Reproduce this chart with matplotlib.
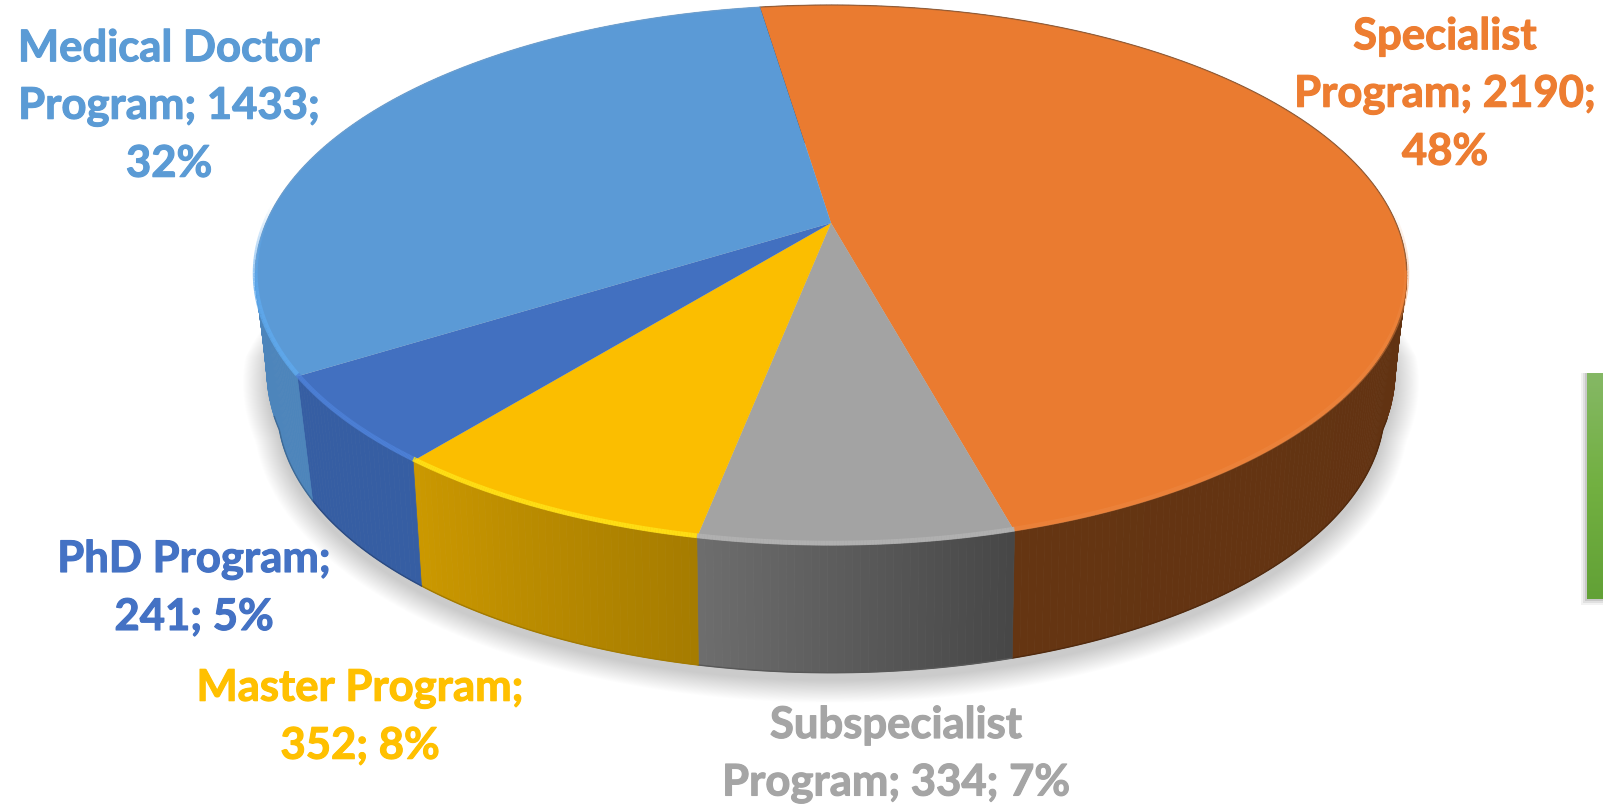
"""3D pie of enrolment per study program, drawn by hand in pixel coordinates."""
import numpy as np

import matplotlib
matplotlib.use('Agg')
import matplotlib.pyplot as plt
import matplotlib.patheffects as pe
from matplotlib.colors import to_rgb

# Slices go clockwise, starting at the Specialist slice
categories = ['Specialist Program', 'Subspecialist Program', 'Master Program',
              'PhD Program', 'Medical Doctor Program']
values = [2190, 334, 352, 241, 1433]
label_text = ['Specialist\nProgram; 2190;\n48%',
              'Subspecialist\nProgram; 334; 7%',
              'Master Program;\n352; 8%',
              'PhD Program;\n241; 5%',
              'Medical Doctor\nProgram; 1433;\n32%']
label_pos = [(1445, 94), (896, 754), (360, 717), (194, 588), (169, 106)]

top_colors = ['#EA7B30', '#A3A3A3', '#FBBE00', '#4270C0', '#5B9AD6']
text_colors = ['#ED7D31', '#A5A5A5', '#FFC000', '#4472C4', '#5B9BD5']
rim_colors = ['#EE8A45', '#B4B4B4', '#FFE61A', '#4F84DC', '#5FAAEE']
# walls are walked clockwise, so right hand colour comes first
wall_start = ['#5C2E12', '#474747', '#A67C00', '#365EA3', '#4D85BB']
wall_end = ['#653512', '#6E6E6E', '#CC9900', '#365EA3', '#4D85BB']

START_DEG = -8.6
CX = 831


def project(theta, x_amp, y_mid, y_amp, k):
    # perspective view of a circle, far edge is shrunk
    u, v = np.sin(theta), -np.cos(theta)
    d = 1 - k * v
    return CX + x_amp * u / d, y_mid + y_amp * v / d


def top_edge(theta):
    return project(theta, 565, 223, 260, 0.193)


def bottom_edge(theta):
    x, y = project(theta, 540, 349, 252.5, 0.22)
    # the foot of the wall bulges a bit at the far left and right
    v = -np.cos(theta)
    bulge = 1 + 0.04 * np.clip(1 - v / 0.3, 0, 1)
    return CX + (x - CX) * bulge, y


def mix(c1, c2, t):
    return tuple((1 - t) * a + t * b for a, b in zip(to_rgb(c1), to_rgb(c2)))


fig = plt.figure(figsize=(16.03, 8.06), dpi=100)
ax = fig.add_axes([0, 0, 1, 1])

# soft shadow under the pie
full = np.linspace(0, 2 * np.pi, 361)
bx, by = bottom_edge(full)
for grow in np.linspace(34, 0, 26):
    ax.fill(CX + (bx - CX) * (1 + grow / 800), by + 8 + (by - 349) * grow / 500,
            color='black', alpha=0.0075, lw=0, zorder=1)

edges = np.radians(START_DEG + np.cumsum([0] + values) / sum(values) * 360)

# side walls first, then the top face over them
for i in range(len(values)):
    n = max(int(np.degrees(edges[i + 1] - edges[i]) * 1.5), 2)
    th = np.linspace(edges[i], edges[i + 1], n + 1)
    tx, ty = top_edge(th)
    lx, ly = bottom_edge(th)
    for j in range(n):
        col = mix(wall_start[i], wall_end[i], j / n)
        ax.fill([tx[j], tx[j + 1], lx[j + 1], lx[j]],
                [ty[j], ty[j + 1], ly[j + 1], ly[j]],
                color=col, ec=col, lw=0.5, zorder=2)
    # darker line at the foot of the wall, near side only
    near = -np.cos(th) > 0.25
    if near.sum() > 1:
        ax.plot(lx[near], ly[near], color=mix(wall_end[i], '#000000', 0.2),
                lw=1.0, zorder=2.5)

for i in range(len(values)):
    th = np.linspace(edges[i], edges[i + 1], 200)
    tx, ty = top_edge(th)
    ax.fill(np.r_[CX, tx], np.r_[223, ty], color=top_colors[i], lw=0, zorder=3)

# bevel highlight on the near rim, fading out towards the far side
for i in range(len(values)):
    th = np.linspace(edges[i], edges[i + 1], 120)
    tx, ty = top_edge(th)
    v = -np.cos(th)
    strength = np.clip((v + 0.05) / 0.3, 0, 1) * (0.45 if i == 0 else 0.8)
    for j in range(len(th) - 1):
        if strength[j] > 0:
            ax.plot(tx[j:j + 2], ty[j:j + 2] - 2, color=rim_colors[i], lw=3.5,
                    alpha=strength[j], solid_capstyle='butt', zorder=4)

# dark hairline along the far rim
th = np.radians(np.linspace(-8.6, 100, 200))
tx, ty = top_edge(th)
ax.plot(tx, ty, color='#8a5a38', lw=1.0, alpha=0.6, zorder=4)
th = np.radians(np.linspace(260, 351.4, 200))
tx, ty = top_edge(th)
ax.plot(tx, ty, color='#7aa6d0', lw=1.0, alpha=0.5, zorder=4)

# green box cut off at the right edge
for off, alpha in [(6, 0.05), (4, 0.07), (2, 0.10)]:
    ax.fill([1587 - off, 1603, 1603, 1587 - off],
            [373, 373, 599 + off, 599 + off], color='black', alpha=alpha, lw=0, zorder=1)
green = np.array([mix('#85B865', '#72B041', t) for t in np.linspace(0, 1, 60)]
                 + [mix('#72B041', '#62A136', t) for t in np.linspace(0, 1, 60)])
ax.imshow(green[:, None, :], extent=(1587, 1603, 599, 373), aspect='auto', zorder=2)

for text, (x, y), col in zip(label_text, label_pos, text_colors):
    ax.text(x, y, text, color=col, ha='center', va='center', fontsize=31.4,
            fontweight='bold', family='Lato', linespacing=1.53, zorder=5,
            path_effects=[pe.withStroke(linewidth=0.8, foreground=col)])

ax.set_xlim(0, 1603)
ax.set_ylim(806, 0)
ax.axis('off')

fig.savefig('out.png', dpi=100, facecolor='white')
